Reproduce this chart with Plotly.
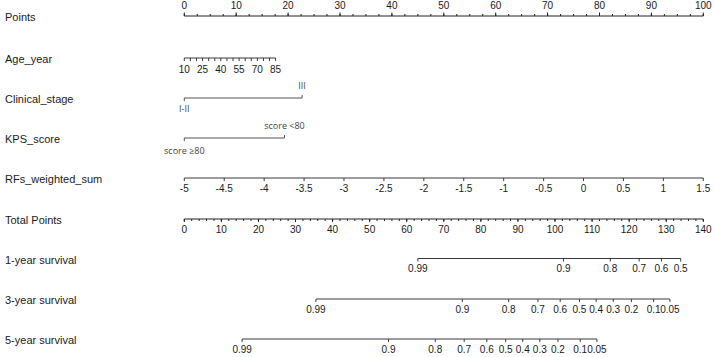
import plotly.graph_objects as go

W, H = 714, 357

# ---------------- data ----------------
points_ticks = list(range(0, 101, 10))
points_minor = [i * 2.5 for i in range(41)]

age_labels = [10, 25, 40, 55, 70, 85]
age_minor = list(range(10, 86, 5))
age_min, age_max = 10, 85
age_max_points = 17.6

clinical_levels = ["I-II", "III"]
clinical_points = [0, 22.7]

kps_levels = ["score ≥80", "score <80"]
kps_points = [0, 19.3]

rfs_ticks = [-5, -4.5, -4, -3.5, -3, -2.5, -2, -1.5, -1, -0.5, 0, 0.5, 1, 1.5]
rfs_labels = ["-5", "-4.5", "-4", "-3.5", "-3", "-2.5", "-2", "-1.5", "-1", "-0.5", "0", "0.5", "1", "1.5"]
rfs_min, rfs_max = -5, 1.5

total_ticks = list(range(0, 141, 10))
total_minor = list(range(0, 141, 2))
total_max = 140

surv1_labels = ["0.99", "0.9", "0.8", "0.7", "0.6", "0.5"]
surv1_total = [63.0, 102.3, 114.9, 122.7, 128.7, 133.9]

surv3_labels = ["0.99", "0.9", "0.8", "0.7", "0.6", "0.5", "0.4", "0.3", "0.2", "0.1", "0.05"]
surv3_total = [35.5, 75.0, 87.5, 95.4, 101.4, 106.6, 111.1, 115.7, 120.6, 126.6, 131.0]

surv5_labels = ["0.99", "0.9", "0.8", "0.7", "0.6", "0.5", "0.4", "0.3", "0.2", "0.1", "0.05"]
surv5_total = [15.6, 55.1, 67.7, 75.5, 81.6, 86.7, 91.3, 95.9, 100.8, 106.8, 111.3]

row_names = ["Points", "Age_year", "Clinical_stage", "KPS_score", "RFs_weighted_sum",
             "Total Points", "1-year survival", "3-year survival", "5-year survival"]

# ---------------- layout helpers ----------------
row_y = [16, 58, 98, 138, 178, 219, 258.5, 299, 339]
LINE = "#3a3a3a"
TXT = "#1a1a1a"
FONT = "Liberation Sans, Arial, sans-serif"
CATFONT = "Open Sans, Noto Sans, sans-serif"


def age_pts(v):
    return (v - age_min) / (age_max - age_min) * age_max_points


def rfs_pts(v):
    return (v - rfs_min) / (rfs_max - rfs_min) * 100


def tot_pts(v):
    return v * 100 / total_max


fig = go.Figure()


def add_line(x0, x1, y, color=LINE, width=1):
    fig.add_trace(go.Scatter(x=[x0, x1], y=[y, y], mode="lines",
                             line=dict(color=color, width=width),
                             hoverinfo="skip", showlegend=False))


def add_ticks(xs, y0, y1, color=LINE, width=1):
    xx, yy = [], []
    for x in xs:
        xx += [x, x, None]
        yy += [y0, y1, None]
    fig.add_trace(go.Scatter(x=xx, y=yy, mode="lines",
                             line=dict(color=color, width=width),
                             hoverinfo="skip", showlegend=False))


def add_text(xs, y, labels, size=10, color=TXT, family=FONT):
    fig.add_trace(go.Scatter(x=xs, y=[y] * len(xs), mode="text", text=labels,
                             textposition="middle center",
                             textfont=dict(size=size, color=color, family=family),
                             hoverinfo="skip", showlegend=False))


# Points
y = row_y[0]
add_line(0, 100, y, color="#222")
add_ticks(points_minor, y, y - 2, color="#222")
add_ticks(points_ticks, y, y - 3.5, color="#222")
add_text(points_ticks, y - 10, [str(v) for v in points_ticks])

# Age
y = row_y[1]
add_line(age_pts(age_min), age_pts(age_max), y)
add_ticks([age_pts(v) for v in age_minor], y, y + 3)
add_text([age_pts(v) for v in age_labels], y + 12, [str(v) for v in age_labels])

# Clinical stage
y = row_y[2]
add_line(clinical_points[0], clinical_points[1], y, color="#555")
add_ticks([clinical_points[0]], y, y + 3, color="#555")
add_ticks([clinical_points[1]], y, y - 3, color="#555")
add_text([clinical_points[0]], y + 12, [clinical_levels[0]], size=9, color="#444", family=CATFONT)
add_text([clinical_points[1]], y - 11, [clinical_levels[1]], size=9, color="#444", family=CATFONT)

# KPS
y = row_y[3]
add_line(kps_points[0], kps_points[1], y, color="#555")
add_ticks([kps_points[0]], y, y + 3, color="#555")
add_ticks([kps_points[1]], y, y - 3, color="#555")
add_text([kps_points[0]], y + 14, [kps_levels[0]], size=9, color="#444", family=CATFONT)
add_text([kps_points[1]], y - 11, [kps_levels[1]], size=9, color="#444", family=CATFONT)

# RFs weighted sum
y = row_y[4]
add_line(rfs_pts(rfs_min), rfs_pts(rfs_max), y)
add_ticks([rfs_pts(v) for v in rfs_ticks], y, y + 3)
add_text([rfs_pts(v) for v in rfs_ticks], y + 11, rfs_labels)

# Total points
y = row_y[5]
add_line(0, 100, y, color="#222")
add_ticks([tot_pts(v) for v in total_minor], y, y + 2, color="#222")
add_ticks([tot_pts(v) for v in total_ticks], y, y + 3, color="#222")
add_text([tot_pts(v) for v in total_ticks], y + 11, [str(v) for v in total_ticks])

# Survival rows
for i, (labs, tots) in enumerate([(surv1_labels, surv1_total),
                                   (surv3_labels, surv3_total),
                                   (surv5_labels, surv5_total)]):
    y = row_y[6 + i]
    xs = [tot_pts(v) for v in tots]
    add_line(min(xs), max(xs), y)
    add_ticks(xs, y, y + 3)
    add_text(xs, y + 11, labs)

# Row labels
for name, yy in zip(row_names, row_y):
    fig.add_annotation(x=3 / W, xref="paper", y=yy + 1, yref="y", text=name,
                       showarrow=False, xanchor="left", yanchor="middle",
                       font=dict(size=11, color=TXT, family=FONT))

px_per_pt = 5.19
x0px = 184.3
fig.update_xaxes(range=[-x0px / px_per_pt, (W - x0px) / px_per_pt], visible=False, fixedrange=True)
fig.update_yaxes(range=[H, 0], visible=False, fixedrange=True)
fig.update_layout(width=W, height=H, margin=dict(l=0, r=0, t=0, b=0),
                  plot_bgcolor="white", paper_bgcolor="white", showlegend=False)

fig.write_html("out.html", config={"displayModeBar": False},
               post_script="document.body.style.margin='0';document.body.style.overflow='hidden';")
